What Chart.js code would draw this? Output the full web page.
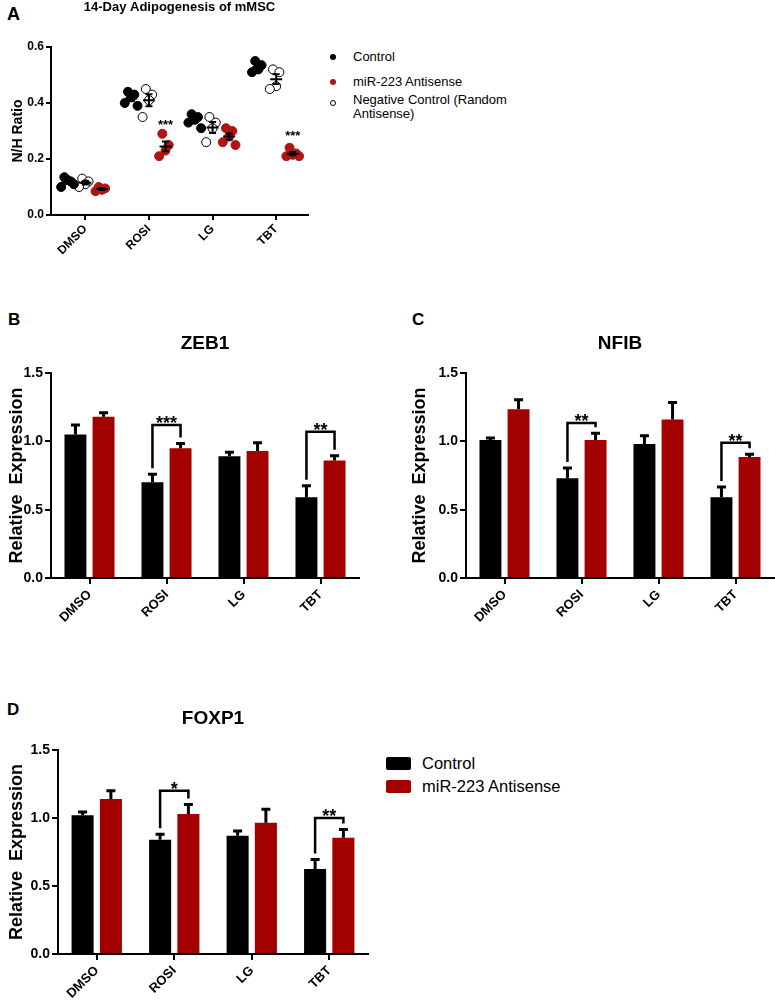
<!DOCTYPE html>
<html>
<head>
<meta charset="utf-8">
<script src="https://cdn.jsdelivr.net/npm/chart.js@4.4.0/dist/chart.umd.min.js"></script>
<style>
  body { margin: 0; background: #fff; }
  #fig { position: relative; width: 775px; height: 1005px; font-family: 'Liberation Sans', Arial, sans-serif; color: #000; }
  #fig canvas { position: absolute; }
  .letter { position: absolute; font-weight: bold; font-size: 17px; line-height: 18px; }
  .lg { position: absolute; font-size: 13px; line-height: 14px; white-space: nowrap; }
  .dot { position: absolute; width: 6px; height: 6px; border-radius: 50%; box-sizing: border-box; }
  .box { position: absolute; width: 25px; height: 13px; border-radius: 2px; }
  .lg2 { position: absolute; font-size: 16.5px; line-height: 17px; white-space: nowrap; }
</style>
</head>
<body>
<div id="fig">
  <div class="letter" style="left:7px;top:5px;font-size:18px">A</div>
  <div class="letter" style="left:8px;top:311px">B</div>
  <div class="letter" style="left:412px;top:311px">C</div>
  <div class="letter" style="left:7px;top:701px">D</div>

  <canvas id="chartA" width="315" height="255" style="left:0;top:0"></canvas>
  <canvas id="chartB" width="370" height="330" style="left:0;top:300px"></canvas>
  <canvas id="chartC" width="395" height="330" style="left:380px;top:300px"></canvas>
  <canvas id="chartD" width="380" height="325" style="left:0;top:680px"></canvas>

  <div class="dot" style="left:330px;top:54px;background:#000"></div>
  <div class="lg" style="left:353px;top:50px">Control</div>
  <div class="dot" style="left:330px;top:79px;background:#b01515"></div>
  <div class="lg" style="left:353px;top:75px">miR-223 Antisense</div>
  <div class="dot" style="left:330px;top:100px;background:#fff;border:1px solid #000"></div>
  <div class="lg" style="left:353px;top:93px">Negative Control (Random<br>Antisense)</div>

  <div class="box" style="left:386px;top:757px;background:#000"></div>
  <div class="lg2" style="left:422px;top:755px">Control</div>
  <div class="box" style="left:386px;top:780px;background:#a30000"></div>
  <div class="lg2" style="left:422px;top:778px">miR-223 Antisense</div>
</div>
<script>
const FONT = "'Liberation Sans', Arial, sans-serif";
const RED = '#a30000';
const DOT_RED = '#b01515';

const categories = ['DMSO', 'ROSI', 'LG', 'TBT'];

// A: N/H ratio, single wells
const nhControl = [[0.135, 0.12, 0.125, 0.10, 0.11], [0.44, 0.43, 0.42, 0.40, 0.39], [0.36, 0.35, 0.34, 0.33, 0.31], [0.55, 0.535, 0.52, 0.51]];
const nhNegative = [[0.13, 0.12, 0.11, 0.10], [0.45, 0.43, 0.41, 0.35], [0.35, 0.33, 0.31, 0.26], [0.52, 0.51, 0.46, 0.45]];
const nhAntisense = [[0.10, 0.095, 0.09, 0.085], [0.29, 0.25, 0.23, 0.21], [0.31, 0.30, 0.28, 0.26, 0.25], [0.24, 0.22, 0.215, 0.21, 0.21]];
const nhStars = ['', '***', '', '***'];
const nhStarLevel = [null, 0.33, null, 0.29];
const nhTicks = [0, 0.2, 0.4, 0.6];

// B: ZEB1
const zebControl = [1.05, 0.70, 0.89, 0.59];
const zebControlErr = [0.07, 0.06, 0.03, 0.085];
const zebAntisense = [1.18, 0.95, 0.93, 0.86];
const zebAntisenseErr = [0.03, 0.035, 0.06, 0.035];
const zebStars = ['', '***', '', '**'];
const zebBracket = [null, 1.12, null, 1.07];

// C: NFIB
const nfibControl = [1.01, 0.73, 0.98, 0.59];
const nfibControlErr = [0.015, 0.075, 0.06, 0.075];
const nfibAntisense = [1.235, 1.01, 1.16, 0.885];
const nfibAntisenseErr = [0.07, 0.05, 0.125, 0.02];
const nfibStars = ['', '**', '', '**'];
const nfibBracket = [null, 1.135, null, 0.99];

// D: FOXP1
const foxControl = [1.02, 0.84, 0.87, 0.625];
const foxControlErr = [0.025, 0.04, 0.035, 0.07];
const foxAntisense = [1.14, 1.03, 0.965, 0.855];
const foxAntisenseErr = [0.06, 0.07, 0.1, 0.06];
const foxStars = ['', '*', '', '**'];
const foxBracket = [null, 1.2, null, 1.0];

const exprTicks = [0, 0.5, 1.0, 1.5];

// title centred over the plot area
const panelTitle = {
  id: 'panelTitle',
  afterDraw(chart, args, opts) {
    const { ctx, chartArea } = chart;
    ctx.save();
    ctx.font = 'bold ' + opts.size + 'px ' + FONT;
    ctx.fillStyle = '#000';
    ctx.textAlign = 'center';
    ctx.textBaseline = 'middle';
    ctx.fillText(opts.text, (chartArea.left + chartArea.right) / 2, chartArea.top - opts.gap);
    ctx.restore();
  }
};

// SEM whiskers and significance brackets on the bar charts
const barExtras = {
  id: 'barExtras',
  afterDatasetsDraw(chart, args, opts) {
    const ctx = chart.ctx;
    const y = chart.scales.y;
    const tops = [];
    ctx.save();
    ctx.strokeStyle = '#000';
    ctx.fillStyle = '#000';
    ctx.lineWidth = 3;
    chart.data.datasets.forEach((ds, di) => {
      tops[di] = [];
      chart.getDatasetMeta(di).data.forEach((bar, i) => {
        const yt = y.getPixelForValue(ds.data[i] + ds.errors[i]);
        tops[di][i] = yt;
        ctx.beginPath();
        ctx.moveTo(bar.x, bar.y);
        ctx.lineTo(bar.x, yt);
        ctx.moveTo(bar.x - 4.5, yt);
        ctx.lineTo(bar.x + 4.5, yt);
        ctx.stroke();
      });
    });
    const m0 = chart.getDatasetMeta(0), m1 = chart.getDatasetMeta(1);
    ctx.lineWidth = 2.5;
    ctx.font = 'bold 18px ' + FONT;
    ctx.textAlign = 'center';
    ctx.textBaseline = 'alphabetic';
    opts.bracket.forEach((h, i) => {
      if (h == null) return;
      const x0 = m0.data[i].x, x1 = m1.data[i].x;
      const yb = y.getPixelForValue(h);
      ctx.beginPath();
      ctx.moveTo(x0, tops[0][i] - 6);
      ctx.lineTo(x0, yb);
      ctx.lineTo(x1, yb);
      ctx.lineTo(x1, tops[1][i] - 6);
      ctx.stroke();
      ctx.fillText(opts.stars[i], (x0 + x1) / 2, yb + 4);
    });
    ctx.restore();
  }
};

// mean +/- SEM lines and stars on the dot plot
const dotExtras = {
  id: 'dotExtras',
  afterDatasetsDraw(chart, args, opts) {
    const { ctx, scales: { x, y } } = chart;
    ctx.save();
    ctx.strokeStyle = '#000';
    ctx.lineWidth = 2;
    chart.data.datasets.forEach((ds) => {
      ds.groups.forEach((vals, ci) => {
        const n = vals.length;
        const mean = vals.reduce((a, b) => a + b, 0) / n;
        const sd = Math.sqrt(vals.reduce((a, b) => a + (b - mean) * (b - mean), 0) / (n - 1));
        const sem = sd / Math.sqrt(n);
        const cx = x.getPixelForValue(ci + ds.shift);
        const ym = y.getPixelForValue(mean);
        const yh = y.getPixelForValue(mean + sem);
        const yl = y.getPixelForValue(mean - sem);
        ctx.beginPath();
        ctx.moveTo(cx - 6, ym); ctx.lineTo(cx + 6, ym);
        ctx.moveTo(cx, yh); ctx.lineTo(cx, yl);
        ctx.moveTo(cx - 3.5, yh); ctx.lineTo(cx + 3.5, yh);
        ctx.moveTo(cx - 3.5, yl); ctx.lineTo(cx + 3.5, yl);
        ctx.stroke();
      });
    });
    ctx.fillStyle = '#000';
    ctx.font = 'bold 13px ' + FONT;
    ctx.textAlign = 'center';
    ctx.textBaseline = 'middle';
    opts.stars.forEach((s, i) => {
      if (!s) return;
      ctx.fillText(s, x.getPixelForValue(i + opts.shift), y.getPixelForValue(opts.level[i]) + 3);
    });
    ctx.restore();
  }
};

function tickFont(size) {
  return { family: FONT, size: size, weight: 'bold' };
}

function yAxis(ticksArr, max, size, width, title, titleSize, titlePad, tickLen) {
  return {
    min: 0, max: max,
    border: { color: '#000', width: 2 },
    grid: { drawOnChartArea: false, tickLength: tickLen, lineWidth: 2, color: '#000' },
    afterBuildTicks: (s) => { s.ticks = ticksArr.map((v) => ({ value: v })); },
    ticks: { color: '#000', padding: 2, font: tickFont(size), callback: (v) => Number(v).toFixed(1) },
    title: { display: true, text: title, color: '#000', padding: { top: titlePad, bottom: 0 }, font: tickFont(titleSize) },
    afterFit: (s) => { s.width = width; }
  };
}

function xBarAxis(height) {
  return {
    type: 'category',
    offset: true,
    border: { color: '#000', width: 2 },
    grid: { offset: false, drawOnChartArea: false, tickLength: 6, lineWidth: 2, color: '#000' },
    ticks: { color: '#000', padding: 3, minRotation: 45, maxRotation: 45, autoSkip: false, font: tickFont(13) },
    afterFit: (s) => { s.height = height; }
  };
}

function barChart(id, title, ctrl, ctrlErr, anti, antiErr, stars, bracket, geo) {
  return new Chart(document.getElementById(id), {
    type: 'bar',
    data: {
      labels: categories,
      datasets: [
        { label: 'Control', data: ctrl, errors: ctrlErr, backgroundColor: '#000' },
        { label: 'miR-223 Antisense', data: anti, errors: antiErr, backgroundColor: RED }
      ]
    },
    options: {
      responsive: false,
      animation: false,
      categoryPercentage: 0.73,
      barPercentage: 0.78,
      layout: { padding: { top: geo.top, right: geo.right, left: 0, bottom: 0 } },
      plugins: {
        legend: { display: false },
        tooltip: { enabled: false },
        panelTitle: { text: title, size: 19, gap: geo.gap },
        barExtras: { stars: stars, bracket: bracket }
      },
      scales: {
        x: xBarAxis(geo.xh),
        y: yAxis(exprTicks, 1.5, 14, geo.yw, 'Relative  Expression', 18, geo.tp, 6)
      }
    },
    plugins: [panelTitle, barExtras]
  });
}

// spread of overlapping dots inside a group
const spread = [-0.05, 0.05, 0, -0.1, 0.1];
function dots(groups, shift) {
  const pts = [];
  groups.forEach((vals, ci) => {
    vals.forEach((v, j) => pts.push({ x: ci + shift + spread[j % spread.length], y: v }));
  });
  return pts;
}

new Chart(document.getElementById('chartA'), {
  type: 'scatter',
  data: {
    datasets: [
      { label: 'Control', groups: nhControl, shift: -0.28, data: dots(nhControl, -0.28),
        backgroundColor: '#000', borderColor: '#000', pointRadius: 4.5, borderWidth: 1 },
      { label: 'Negative Control (Random Antisense)', groups: nhNegative, shift: 0, data: dots(nhNegative, 0),
        backgroundColor: '#fff', borderColor: '#000', pointRadius: 4.5, borderWidth: 1 },
      { label: 'miR-223 Antisense', groups: nhAntisense, shift: 0.26, data: dots(nhAntisense, 0.26),
        backgroundColor: DOT_RED, borderColor: DOT_RED, pointRadius: 4.5, borderWidth: 1 }
    ]
  },
  options: {
    responsive: false,
    animation: false,
    layout: { padding: { top: 47, right: 7, left: 0, bottom: 0 } },
    plugins: {
      legend: { display: false },
      tooltip: { enabled: false },
      panelTitle: { text: '14-Day Adipogenesis of mMSC', size: 13, gap: 40 },
      dotExtras: { stars: nhStars, level: nhStarLevel, shift: 0.26 }
    },
    scales: {
      x: {
        type: 'linear', min: -0.54, max: 3.5,
        border: { color: '#000', width: 2 },
        grid: { drawOnChartArea: false, tickLength: 5, lineWidth: 2, color: '#000' },
        afterBuildTicks: (s) => { s.ticks = categories.map((c, i) => ({ value: i })); },
        ticks: { color: '#000', padding: 2, minRotation: 45, maxRotation: 45, autoSkip: false, font: tickFont(12),
                 callback: (v) => categories[v] },
        afterFit: (s) => { s.height = 40; }
      },
      y: yAxis(nhTicks, 0.6, 12, 51, 'N/H Ratio', 14, 10, 5)
    }
  },
  plugins: [panelTitle, dotExtras]
});

barChart('chartB', 'ZEB1', zebControl, zebControlErr, zebAntisense, zebAntisenseErr, zebStars, zebBracket,
  { top: 73, right: 11, xh: 52, yw: 51, gap: 29.5, tp: 6 });
barChart('chartC', 'NFIB', nfibControl, nfibControlErr, nfibAntisense, nfibAntisenseErr, nfibStars, nfibBracket,
  { top: 73, right: 1, xh: 52, yw: 86, gap: 29.5, tp: 29 });
barChart('chartD', 'FOXP1', foxControl, foxControlErr, foxAntisense, foxAntisenseErr, foxStars, foxBracket,
  { top: 70, right: 12, xh: 51, yw: 58, gap: 31.5, tp: 6 });
</script>
</body>
</html>
